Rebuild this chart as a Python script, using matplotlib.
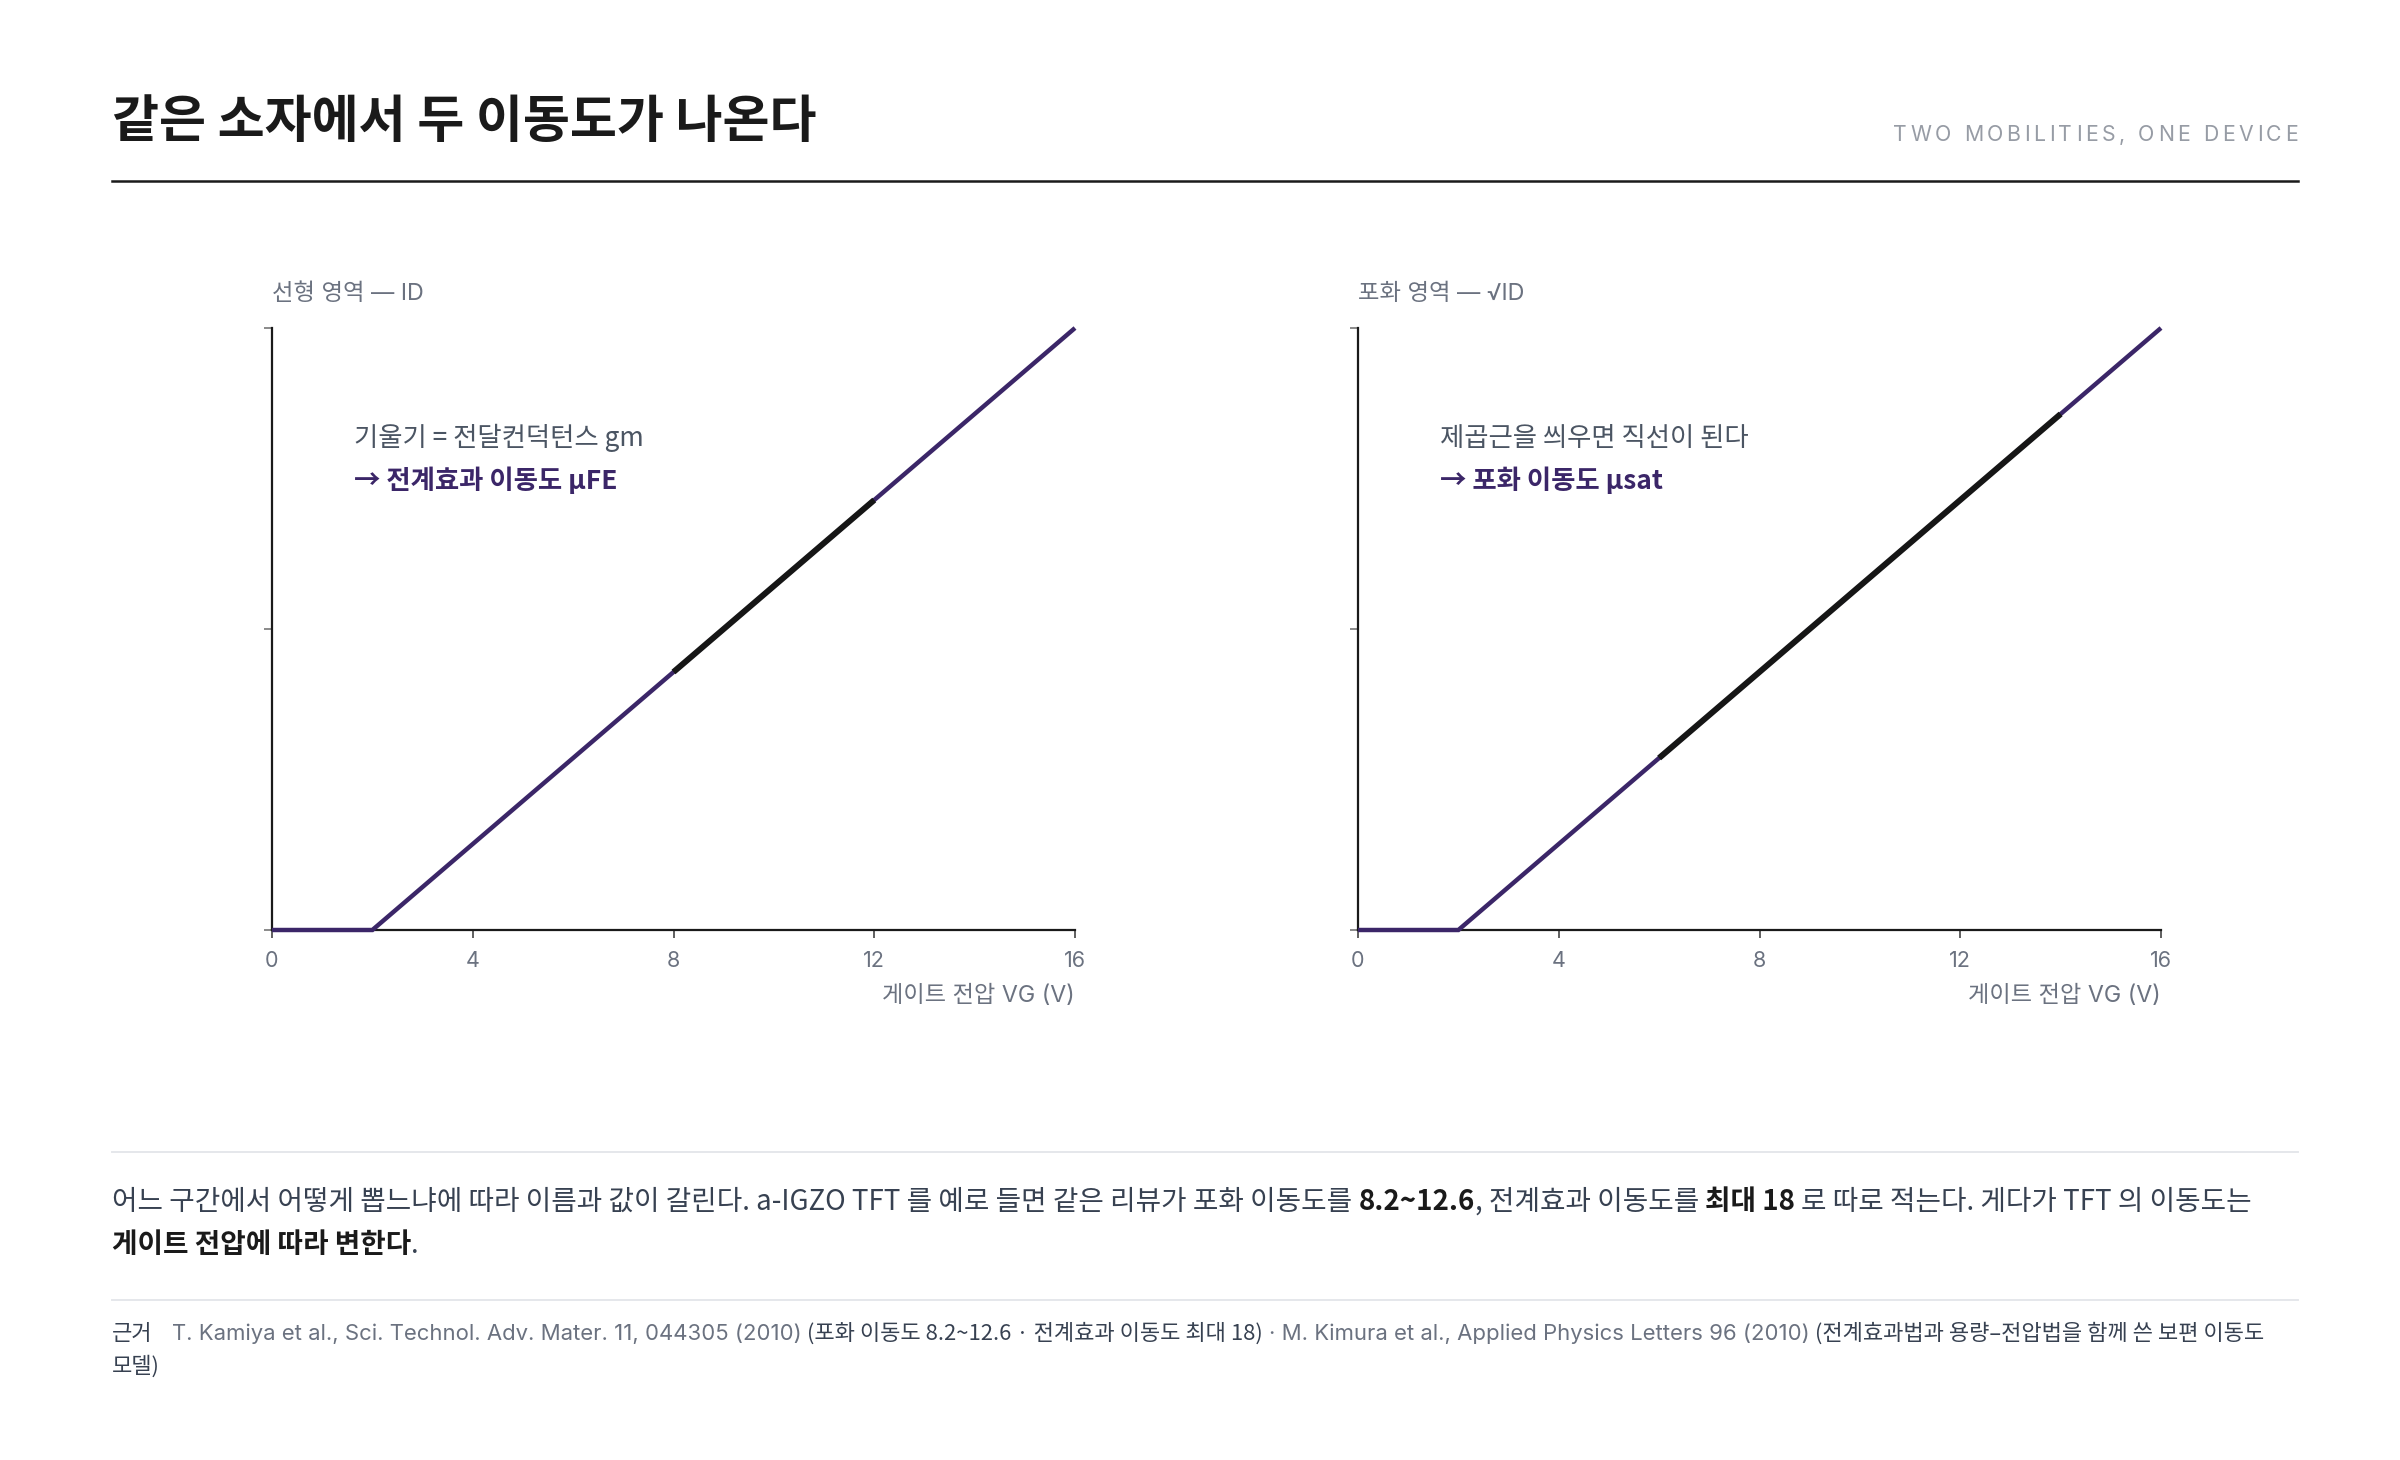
import matplotlib
matplotlib.use('Agg')
import matplotlib.pyplot as plt

W, H = 2400, 1460
DPI = 100

# ---------------- data ----------------
vg = [0, 2, 4, 6, 8, 10, 12, 14, 16]
id_linear = [0, 0, 2, 4, 6, 8, 10, 12, 14]
sqrt_id_sat = [0, 0, 2, 4, 6, 8, 10, 12, 14]
fe_window = [8, 12]
sat_window = [6, 14]
x_ticks = [0, 4, 8, 12, 16]
y_ticks = [0, 7, 14]

title = "같은 소자에서 두 이동도가 나온다"
subtitle = "TWO MOBILITIES, ONE DEVICE"
panel_titles = ["선형 영역 — ID", "포화 영역 — √ID"]
notes_plain = ["기울기 = 전달컨덕턴스 gm", "제곱근을 씌우면 직선이 된다"]
notes_bold = ["→ 전계효과 이동도 μFE", "→ 포화 이동도 μsat"]
x_label = "게이트 전압 VG (V)"

PURPLE = '#3b2668'
BLACK = '#161616'
DARK = '#1a1a1a'
TEXT = '#374151'
GRAY = '#6b7280'
LIGHT = '#979ca5'
KR = ['Noto Sans CJK KR', 'DejaVu Sans']
LAT = ['Inter', 'Noto Sans CJK KR', 'DejaVu Sans']

fig = plt.figure(figsize=(W / DPI, H / DPI), dpi=DPI)
fig.patch.set_facecolor('white')
renderer = fig.canvas.get_renderer()


def fx(px):
    return px / W


def fy(py):
    return 1 - py / H


def measure(s, **kw):
    t = fig.text(0, 0, s, **kw)
    w = t.get_window_extent(renderer).width
    t.remove()
    return w


def space_w(**kw):
    return measure('가 가', **kw) - measure('가가', **kw)


def draw_runs(x, y, parts, size, family=KR):
    for s, color, weight in parts:
        kw = dict(fontsize=size, family=family, fontweight=weight)
        sw = space_w(**kw)
        lead = len(s) - len(s.lstrip(' '))
        trail = len(s) - len(s.rstrip(' '))
        core = s.strip(' ')
        x += lead * sw
        if core:
            t = fig.text(fx(x), fy(y), core, color=color, va='center', ha='left', **kw)
            x += t.get_window_extent(renderer).width
        x += trail * sw
    return x


# ---------------- header ----------------
fig.text(fx(112), fy(122), title, fontsize=36.8, fontweight='bold', family=KR,
         color=DARK, va='center', ha='left')

# letter-spaced subtitle, right aligned at 2298
sub_kw = dict(fontsize=15.3, family=LAT, color=LIGHT)
spacing = 3.6
widths = []
sw_sub = measure('A A', **sub_kw) - measure('AA', **sub_kw)
for ch in subtitle:
    widths.append(sw_sub if ch == ' ' else measure(ch, **sub_kw))
total = sum(widths) + spacing * (len(subtitle) - 1)
xx = 2298 - total
for ch, w in zip(subtitle, widths):
    if ch != ' ':
        fig.text(fx(xx), fy(135), ch, va='center', ha='left', **sub_kw)
    xx += w + spacing

fig.add_artist(plt.Line2D([fx(112), fx(2298)], [fy(181), fy(181)], color=DARK, lw=1.8))

# ---------------- panels ----------------
panels = [
    (272, id_linear, fe_window),
    (1358, sqrt_id_sat, sat_window),
]
for i, (left, ys, win) in enumerate(panels):
    ax = fig.add_axes([fx(left), fy(930), 803 / W, 602 / H])
    ax.patch.set_alpha(0)
    ax.plot(vg, ys, color=PURPLE, lw=3.2, clip_on=False, zorder=3,
            solid_capstyle='butt', solid_joinstyle='miter')
    hx = [x for x in vg if win[0] <= x <= win[1]]
    hy = [y for x, y in zip(vg, ys) if win[0] <= x <= win[1]]
    ax.plot(hx, hy, color=BLACK, lw=4.3, clip_on=False, zorder=4, solid_capstyle='butt')
    ax.set_xlim(vg[0], vg[-1])
    ax.set_ylim(y_ticks[0], y_ticks[-1])
    for s in ['top', 'right']:
        ax.spines[s].set_visible(False)
    for s in ['left', 'bottom']:
        ax.spines[s].set_color(DARK)
        ax.spines[s].set_linewidth(1.6)
    ax.set_xticks(x_ticks)
    ax.set_xticklabels([str(t) for t in x_ticks])
    ax.set_yticks(y_ticks)
    ax.set_yticklabels([])
    ax.tick_params(axis='x', length=6, width=1.2, color='#444444',
                   labelsize=15.5, labelcolor=GRAY, pad=9)
    ax.tick_params(axis='y', length=6, width=1.2, color='#777777')
    for lbl in ax.get_xticklabels():
        lbl.set_family(LAT)

    fig.text(fx(left), fy(294), panel_titles[i], fontsize=16.8, family=LAT,
             color=GRAY, va='center', ha='left')
    fig.text(fx(left + 82), fy(438), notes_plain[i], fontsize=19, family=KR,
             color='#4b5563', va='center', ha='left')
    fig.text(fx(left + 82), fy(481), notes_bold[i], fontsize=19, family=KR,
             fontweight='bold', color=PURPLE, va='center', ha='left')
    fig.text(fx(left + 803), fy(996), x_label, fontsize=16.7, family=LAT,
             color=GRAY, va='center', ha='right')

# ---------------- footer ----------------
fig.add_artist(plt.Line2D([fx(112), fx(2298)], [fy(1152), fy(1152)], color='#e5e7eb', lw=1.4))

para1 = [
    ("어느 구간에서 어떻게 뽑느냐에 따라 이름과 값이 갈린다. a-IGZO TFT 를 예로 들면 같은 리뷰가 포화 이동도를 ", TEXT, 'normal'),
    ("8.2~12.6", DARK, 'bold'),
    (", 전계효과 이동도를 ", TEXT, 'normal'),
    ("최대 18", DARK, 'bold'),
    (" 로 따로 적는다. 게다가 TFT 의 이동도는", TEXT, 'normal'),
]
para2 = [
    ("게이트 전압에 따라 변한다", DARK, 'bold'),
    (".", TEXT, 'normal'),
]
draw_runs(112, 1202, para1, 19.95)
draw_runs(112, 1245, para2, 19.95)

fig.add_artist(plt.Line2D([fx(112), fx(2298)], [fy(1300), fy(1300)], color='#e5e7eb', lw=1.4))

src1 = [
    ("근거", TEXT, 'normal'),
    ("  ", TEXT, 'normal'),
]
xs = draw_runs(112, 1334, src1, 15.9)
src_rest = [
    ("T. Kamiya et al., Sci. Technol. Adv. Mater. 11, 044305 (2010)", GRAY, 'normal', LAT),
    (" (포화 이동도 8.2~12.6 · 전계효과 이동도 최대 18)", TEXT, 'normal', KR),
    (" · M. Kimura et al., Applied Physics Letters 96 (2010)", GRAY, 'normal', LAT),
    (" (전계효과법과 용량–전압법을 함께 쓴 보편 이동도", TEXT, 'normal', KR),
]
for s, c, wgt, fam in src_rest:
    xs = draw_runs(xs, 1334, [(s, c, wgt)], 15.9, family=fam)
draw_runs(112, 1367, [("모델)", TEXT, 'normal')], 15.9)

fig.savefig('out.png', dpi=DPI, facecolor='white')
